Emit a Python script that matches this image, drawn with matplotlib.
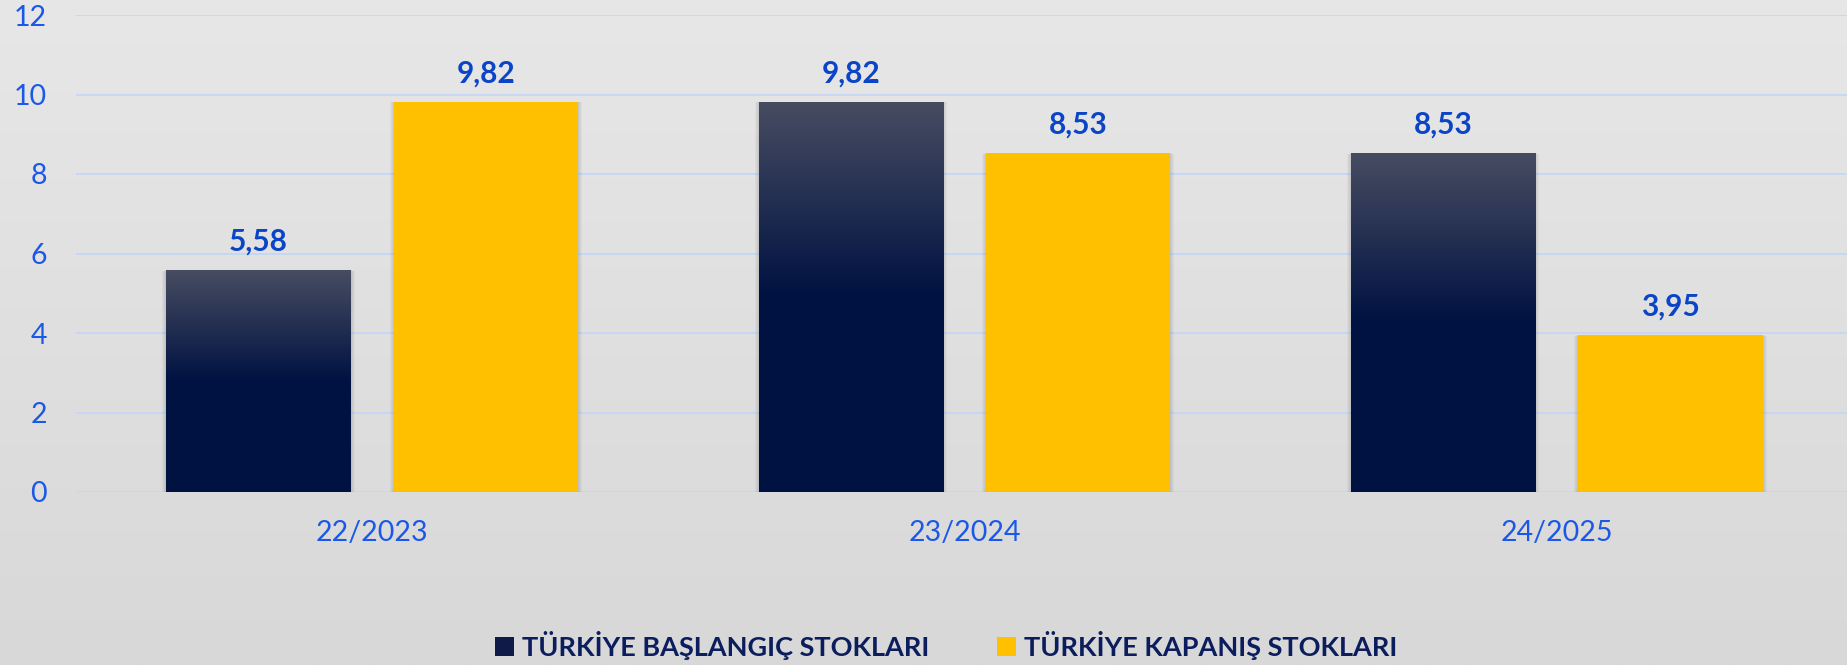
import numpy as np
import matplotlib
matplotlib.use("Agg")
import matplotlib.pyplot as plt
from matplotlib.colors import to_rgb
from matplotlib.patches import Patch, Rectangle

plt.rcParams['font.family'] = ['Lato', 'DejaVu Sans']

categories = ["22/2023", "23/2024", "24/2025"]
baslangic = [5.58, 9.82, 8.53]
kapanis = [9.82, 8.53, 3.95]
series_names = ["TÜRKİYE BAŞLANGIÇ STOKLARI", "TÜRKİYE KAPANIŞ STOKLARI"]
value_labels_1 = ["5,58", "9,82", "8,53"]
value_labels_2 = ["9,82", "8,53", "3,95"]

W, H = 1847, 665
fig = plt.figure(figsize=(W / 100, H / 100), dpi=100)

# background gradient
bg = fig.add_axes([0, 0, 1, 1], zorder=-10)
top_c, bot_c = np.array(to_rgb('#e7e7e7')), np.array(to_rgb('#d8d8d8'))
t = np.linspace(0, 1, 256)[:, None, None]
grad = top_c * (1 - t) + bot_c * t
bg.imshow(np.repeat(grad, 2, axis=1), aspect='auto', extent=[0, 1, 0, 1])
bg.set_axis_off()

ax = fig.add_axes([76 / W, 1 - 492 / H, 1777 / W, 477 / H])
ax.patch.set_alpha(0)

tick_color = '#1b58e8'
val_color = '#0a45c8'
navy_top = np.array(to_rgb('#474c61'))
navy_bot = np.array(to_rgb('#001242'))
yellow = '#FFC000'

ax.set_yticks(range(0, 13, 2))
ax.yaxis.grid(True, color='#c4d6f6', lw=1.3)
ax.set_axisbelow(True)
for s in ax.spines.values():
    s.set_visible(False)
ax.tick_params(axis='both', length=0, colors=tick_color, labelsize=20.5)
ax.tick_params(axis='y', pad=21)
ax.tick_params(axis='x', pad=20)

x = np.arange(len(categories))
bw = 0.311
off = 0.192

px_x = 1.0 / 592.0
px_y = 1.0 / 39.75

def shadow(bar):
    x0, w, h = bar.get_x(), bar.get_width(), bar.get_height()
    for k in range(1, 5):
        ax.add_patch(Rectangle((x0 - k * px_x, -k * px_y * 0.6),
                               w + 2 * k * px_x, h + k * px_y * 0.4,
                               facecolor='black', alpha=0.03, lw=0, zorder=1.5))

bars1 = ax.bar(x - off, baslangic, width=bw, color=navy_bot, zorder=2)
bars2 = ax.bar(x + off, kapanis, width=bw, color=yellow, zorder=2)

# gradient for dark bars
n = 256
f = np.linspace(0, 1, n)[:, None, None]  # 0 = top
mix = np.clip(f / 0.5, 0, 1)
gimg = navy_top * (1 - mix) + navy_bot * mix
gimg = np.repeat(gimg, 2, axis=1)
for b in bars1:
    shadow(b)
    x0, w, h = b.get_x(), b.get_width(), b.get_height()
    im = ax.imshow(gimg, extent=[x0, x0 + w, 0, h], aspect='auto', zorder=2.1,
                   interpolation='bilinear')
    im.set_clip_path(b)
for b in bars2:
    shadow(b)

ax.set_xlim(-0.5, 2.5)
ax.set_ylim(0, 12)

for bars, labs in ((bars1, value_labels_1), (bars2, value_labels_2)):
    for b, lab in zip(bars, labs):
        ax.annotate(lab, (b.get_x() + b.get_width() / 2, b.get_height()),
                    xytext=(0, 14), textcoords='offset points', ha='center', va='baseline',
                    fontsize=21.5, fontweight='bold', color=val_color)

ax.set_xticks(x)
ax.set_xticklabels(categories)

handles = [Patch(facecolor='#101a48', edgecolor='none'), Patch(facecolor=yellow, edgecolor='none')]
leg = fig.legend(handles, series_names, loc='center', bbox_to_anchor=(946 / W, 1 - 645 / H),
                 ncol=2, frameon=False, handlelength=0.7, handleheight=0.7,
                 handletextpad=0.3, columnspacing=2.5,
                 prop={'size': 19.5, 'weight': 'bold'})
for txt in leg.get_texts():
    txt.set_color('#0b1d5c')

fig.savefig('out.png', dpi=100)
